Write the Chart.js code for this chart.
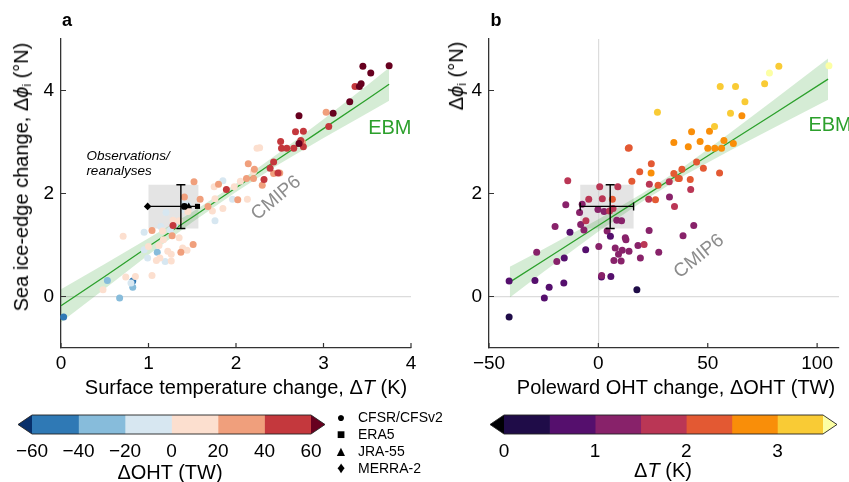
<!DOCTYPE html>
<html>
<head>
<meta charset="utf-8">
<script src="https://cdn.jsdelivr.net/npm/chart.js@4.4.1/dist/chart.umd.min.js"></script>
<style>
body { margin: 0; background: #fff; }
#fig { position: relative; width: 849px; height: 482px; overflow: hidden; font-family: "Liberation Sans", Arial, sans-serif; color: #000; }
#fig canvas { position: absolute; }
.t { position: absolute; white-space: nowrap; transform: translate(-50%, -50%); font-size: 20px; }
.rot { transform: translate(-50%, -50%) rotate(-90deg); }
.lab { font-weight: bold; font-size: 18px; }
.leg { position: absolute; left: 334px; transform: translateY(-50%); font-size: 14px; white-space: nowrap; }
.mk { display: inline-block; width: 14px; text-align: center; margin-right: 10px; font-size: 14px; line-height: 14px; }
sub { font-size: 0.62em; vertical-align: -0.25em; }
</style>
</head>
<body>
<div id="fig">
	<canvas id="panelA" width="430" height="400" style="left:0;top:0"></canvas>
	<canvas id="panelB" width="419" height="400" style="left:430px;top:0"></canvas>
	<canvas id="cbarA" width="340" height="77" style="left:0;top:405px"></canvas>
	<canvas id="cbarB" width="379" height="77" style="left:470px;top:405px"></canvas>

	<div class="t lab" style="left:67px;top:20px">a</div>
	<div class="t lab" style="left:496px;top:20px">b</div>

	<div class="t rot" style="left:22px;top:177px">Sea ice-edge change, Δ<i>ϕ</i><sub>i</sub> (°N)</div>
	<div class="t" style="left:246px;top:387px">Surface temperature change, Δ<i>T</i> (K)</div>
	<div class="t rot" style="left:457px;top:76px">Δ<i>ϕ</i><sub>i</sub> (°N)</div>
	<div class="t" style="left:676px;top:387px">Poleward OHT change, ΔOHT (TW)</div>

	<div class="t" style="left:170px;top:472px">ΔOHT (TW)</div>
	<div class="t" style="left:663px;top:470px">Δ<i>T</i> (K)</div>

	<div class="leg" style="top:417px"><span class="mk">●</span>CFSR/CFSv2</div>
	<div class="leg" style="top:434px"><span class="mk">■</span>ERA5</div>
	<div class="leg" style="top:451px"><span class="mk" style="font-size:14px">▲</span>JRA-55</div>
	<div class="leg" style="top:468px"><span class="mk" style="font-size:16px">♦</span>MERRA-2</div>
</div>

<script>
'use strict';

// CMIP6 models: poleward OHT change (TW), ice-edge shift (deg N), warming (K)
var dOHT = [-40.8, -40.8, -29.0, -28.2, -24.7, -22.5, -19.8, -19.0, -15.8, -15.6,
	-14.9, -14.0, -13.0, -8.6, -8.1, -7.4, -6.6, -5.8, -5.7, -4.4,
	0.2, -0.2, 0.6, 1.4, 1.5, 1.8, 2.6, 4.0, 5.1, 5.5,
	5.7, 6.4, 6.7, 7.1, 7.7, 8.4, 8.9, 9.2, 10.4, 10.6,
	10.9, 12.3, 12.6, 14.0, 13.7, 14.1, 15.3, 17.6, 18.1, 19.2,
	18.9, 20.9, 23.0, 23.2, 23.3, 24.1, 24.2, 26.1, 27.0, 27.3,
	27.6, 32.4, 32.5, 34.5, 34.5, 34.8, 36.5, 37.0, 38.2, 38.7,
	41.1, 42.2, 42.0, 42.6, 43.6, 44.9, 46.5, 48.0, 50.0, 50.8,
	53.1, 53.2, 55.4, 55.7, 56.3, 57.4, 60.4, 61.7, 62.7, 65.6,
	67.0, 76.0, 78.2, 82.5, 105.4];
var dPhi = [-0.40, 0.30, 0.31, 0.86, -0.03, 0.18, 1.36, 0.68, 0.26, 0.75,
	1.78, 2.25, 1.25, 1.63, 1.40, 1.79, 1.29, 0.91, 1.47, 1.89,
	0.97, 1.69, 2.13, 0.38, 0.41, 1.90, 1.65, 1.27, 1.66, 1.17,
	0.39, 1.89, 1.71, 0.70, 0.94, 1.48, 2.13, 0.82, 0.69, 1.47,
	0.90, 1.14, 1.10, 0.88, 2.88, 2.89, 2.24, 0.13, 0.99, 0.75,
	2.42, 1.01, 1.89, 1.28, 2.18, 2.40, 2.58, 1.88, 3.58, 2.16,
	0.86, 2.23, 1.93, 2.39, 2.99, 1.75, 2.29, 2.29, 2.47, 1.18,
	2.91, 2.08, 2.27, 3.20, 1.38, 2.61, 3.01, 2.49, 2.88, 3.21,
	3.30, 2.88, 2.40, 4.08, 2.88, 3.03, 3.56, 2.97, 4.08, 3.51,
	3.78, 4.13, 4.34, 4.47, 4.48];
var dT = [0.03, 0.82, 0.53, 1.10, 0.67, 0.82, 1.14, 1.19, 0.80, 0.99,
	1.45, 1.85, 0.95, 1.20, 1.30, 1.40, 1.25, 0.95, 1.76, 1.96,
	1.00, 1.40, 1.98, 0.74, 1.04, 1.76, 1.45, 1.16, 1.73, 0.71,
	0.85, 2.13, 1.85, 1.09, 1.39, 1.28, 1.75, 1.26, 1.26, 1.35,
	1.44, 1.35, 1.17, 1.22, 2.24, 2.27, 2.05, 0.48, 1.12, 1.13,
	2.20, 1.51, 1.59, 1.04, 1.80, 2.50, 2.14, 2.02, 3.03, 2.30,
	1.37, 1.52, 1.41, 2.43, 2.76, 1.68, 2.20, 2.12, 2.21, 1.27,
	2.77, 1.89, 2.32, 2.68, 1.28, 2.43, 2.51, 2.39, 2.52, 2.77,
	3.06, 2.58, 2.48, 3.36, 2.66, 2.74, 3.11, 2.72, 3.41, 2.72,
	3.30, 3.43, 3.54, 3.45, 3.75];

// observations / reanalyses
var reNames = ['CFSR/CFSv2', 'ERA5', 'JRA-55', 'MERRA-2'];
var reT = [1.41, 1.56, 1.46, 0.99];
var rePhi = [1.75, 1.75, 1.75, 1.75];
var obsT = [1.0, 1.57];
var obsOHT = [-8.3, 16.1];
var obsPhi = [1.32, 2.17];
var obsMeanT = 1.37;
var obsMeanOHT = 5.4;
var obsMeanPhi = 1.75;

// EBM line and its shaded range
var fitTx = [0, 0.5, 1, 1.5, 2, 2.5, 3, 3.5, 3.75];
var fitTy = [-0.18, 0.39, 0.97, 1.54, 2.11, 2.69, 3.26, 3.83, 4.12];
var fitTlo = [-0.50, 0.15, 0.81, 1.44, 2.03, 2.58, 3.08, 3.56, 3.80];
var fitThi = [0.14, 0.63, 1.13, 1.64, 2.19, 2.80, 3.44, 4.10, 4.44];
var fitOx = [-40.5, -25, 0, 20, 40, 60, 80, 105];
var fitOy = [0.28, 0.70, 1.38, 1.92, 2.46, 3.00, 3.54, 4.22];
var fitOlo = [-0.02, 0.48, 1.26, 1.84, 2.37, 2.83, 3.27, 3.82];
var fitOhi = [0.58, 0.92, 1.50, 2.00, 2.55, 3.17, 3.81, 4.62];

// ticks
var ticksT = [0, 1, 2, 3, 4];
var ticksOHT = [-50, 0, 50, 100];
var ticksPhi = [0, 2, 4];
var ticksCbOHT = [-60, -40, -20, 0, 20, 40, 60];
var ticksCbT = [0, 1, 2, 3];

// colour bins (first and last colours are the extensions)
var ohtEdges = [-60, -40, -20, 0, 20, 40, 60];
var ohtColors = ['#08306b', '#2f79b5', '#87bcdb', '#d7e7f1', '#fcdfcf', '#f09f7c', '#c4383d', '#67001f'];
var tEdges = [0, 0.5, 1, 1.5, 2, 2.5, 3, 3.5];
var tColors = ['#000004', '#1f0c48', '#550f6d', '#88226a', '#ba3655', '#e35933', '#f98e09', '#f9cb35', '#fcffa4'];

var FONT = '"Liberation Sans", Arial, sans-serif';
var GREEN = '#2ca02c';

function binColor(v, edges, colors) {
	for (var i = 0; i < edges.length; i++) {
		if (v < edges[i]) return colors[i];
	}
	return colors[colors.length - 1];
}

function pairs(xs, ys) {
	return xs.map(function (x, i) { return {x: x, y: ys[i]}; });
}

function minus(v) {
	return String(v).replace('-', '\u2212');
}

function fixTicks(list) {
	return function (scale) {
		scale.ticks = list.map(function (v) { return {value: v}; });
	};
}

var innerTicks = {
	id: 'innerTicks',
	afterDatasetsDraw: function (chart) {
		var ctx = chart.ctx, a = chart.chartArea;
		var sx = chart.scales.x, sy = chart.scales.y;
		ctx.save();
		ctx.strokeStyle = '#333';
		ctx.lineWidth = 1.2;
		ctx.beginPath();
		sx.ticks.forEach(function (t) {
			var p = sx.getPixelForValue(t.value);
			ctx.moveTo(p, a.bottom);
			ctx.lineTo(p, a.bottom - 5);
		});
		sy.ticks.forEach(function (t) {
			var p = sy.getPixelForValue(t.value);
			ctx.moveTo(a.left, p);
			ctx.lineTo(a.left + 5, p);
		});
		ctx.stroke();
		ctx.restore();
	}
};

// grey observational box plus error bars
function obsPlugin(o) {
	return {
		id: 'obs',
		beforeDatasetsDraw: function (chart) {
			var sx = chart.scales.x, sy = chart.scales.y, ctx = chart.ctx;
			var x0 = sx.getPixelForValue(o.boxX[0]), x1 = sx.getPixelForValue(o.boxX[1]);
			var y0 = sy.getPixelForValue(o.boxY[1]), y1 = sy.getPixelForValue(o.boxY[0]);
			ctx.save();
			ctx.fillStyle = 'rgba(205,205,205,0.55)';
			ctx.fillRect(x0, y0, x1 - x0, y1 - y0);
			ctx.restore();
		},
		afterDatasetDraw: function (chart, args) {
			if (args.index !== 0) return;
			var sx = chart.scales.x, sy = chart.scales.y, ctx = chart.ctx;
			var vx = sx.getPixelForValue(o.vx);
			var vy0 = sy.getPixelForValue(o.vy[0]), vy1 = sy.getPixelForValue(o.vy[1]);
			var hy = sy.getPixelForValue(o.hy);
			var hx0 = sx.getPixelForValue(o.hx[0]), hx1 = sx.getPixelForValue(o.hx[1]);
			ctx.save();
			ctx.strokeStyle = '#000';
			ctx.lineWidth = 1.4;
			ctx.beginPath();
			ctx.moveTo(vx, vy0); ctx.lineTo(vx, vy1);
			ctx.moveTo(vx - 4.5, vy0); ctx.lineTo(vx + 4.5, vy0);
			ctx.moveTo(vx - 4.5, vy1); ctx.lineTo(vx + 4.5, vy1);
			ctx.moveTo(hx0, hy); ctx.lineTo(hx1, hy);
			if (o.hcaps) {
				ctx.moveTo(hx0, hy - 4); ctx.lineTo(hx0, hy + 4);
				ctx.moveTo(hx1, hy - 4); ctx.lineTo(hx1, hy + 4);
			}
			ctx.stroke();
			ctx.restore();
		}
	};
}

function notesPlugin(items) {
	return {
		id: 'notes',
		afterDatasetsDraw: function (chart) {
			var ctx = chart.ctx;
			items.forEach(function (n) {
				var x = chart.scales.x.getPixelForValue(n.x);
				var y = chart.scales.y.getPixelForValue(n.y);
				ctx.save();
				ctx.translate(x, y);
				ctx.rotate((n.rot || 0) * Math.PI / 180);
				ctx.font = n.font;
				ctx.fillStyle = n.color;
				ctx.textAlign = n.align || 'center';
				ctx.textBaseline = 'middle';
				ctx.fillText(n.text, 0, 0);
				ctx.restore();
			});
		}
	};
}

function makePanel(id, p) {
	var datasets = [
		{type: 'scatter', data: pairs(p.mx, dPhi), pointBackgroundColor: p.colors, pointBorderWidth: 0,
			pointRadius: 3.5, pointHoverRadius: 3.5, clip: false, order: 1},
		{type: 'line', data: pairs(p.bandX, p.bandLo), borderWidth: 0, pointRadius: 0, fill: false, order: 4},
		{type: 'line', data: pairs(p.bandX, p.bandHi), borderWidth: 0, pointRadius: 0, fill: '-1',
			backgroundColor: 'rgba(44,160,44,0.2)', order: 3},
		{type: 'line', data: pairs(p.bandX, p.fitY), borderColor: GREEN, borderWidth: 1.3, pointRadius: 0, fill: false, order: 2}
	];
	if (p.extra) datasets.push(p.extra);

	var tickFont = {family: FONT, size: 19};
	return new Chart(document.getElementById(id), {
		type: 'scatter',
		data: {datasets: datasets},
		options: {
			responsive: false,
			animation: false,
			events: [],
			layout: {padding: {left: 0, top: 39, right: p.padRight, bottom: 0}},
			plugins: {legend: {display: false}, tooltip: {enabled: false}},
			scales: {
				x: {
					type: 'linear', min: p.xMin, max: p.xMax,
					afterBuildTicks: fixTicks(p.xTicks),
					afterFit: function (s) { s.height = 52; },
					grid: {drawTicks: false, lineWidth: 1.2, color: function (c) {
						return (p.xZero && c.tick && c.tick.value === 0) ? '#dcdcdc' : 'rgba(0,0,0,0)';
					}},
					border: {display: true, color: '#333', width: 1.3},
					ticks: {padding: 4, color: '#000', font: tickFont, callback: minus, maxRotation: 0}
				},
				y: {
					type: 'linear', min: -1, max: 5,
					afterBuildTicks: fixTicks(ticksPhi),
					afterFit: function (s) { s.width = p.yWidth; },
					grid: {drawTicks: false, lineWidth: 1.2, color: function (c) {
						return (c.tick && c.tick.value === 0) ? '#dcdcdc' : 'rgba(0,0,0,0)';
					}},
					border: {display: true, color: '#333', width: 1.3},
					ticks: {padding: 7, color: '#000', font: tickFont, callback: minus}
				}
			}
		},
		plugins: [obsPlugin(p.obs), innerTicks, notesPlugin(p.notes)]
	});
}

function extendPlugin(lowColor, highColor) {
	return {
		id: 'extend',
		afterDatasetsDraw: function (chart) {
			var ctx = chart.ctx, a = chart.chartArea, w = 14;
			var mid = (a.top + a.bottom) / 2;
			ctx.save();
			ctx.fillStyle = lowColor;
			ctx.beginPath();
			ctx.moveTo(a.left, a.top); ctx.lineTo(a.left - w, mid); ctx.lineTo(a.left, a.bottom);
			ctx.closePath(); ctx.fill();
			ctx.fillStyle = highColor;
			ctx.beginPath();
			ctx.moveTo(a.right, a.top); ctx.lineTo(a.right + w, mid); ctx.lineTo(a.right, a.bottom);
			ctx.closePath(); ctx.fill();
			ctx.strokeStyle = '#222';
			ctx.lineWidth = 0.9;
			ctx.beginPath();
			ctx.moveTo(a.left - w, mid); ctx.lineTo(a.left, a.top); ctx.lineTo(a.right, a.top);
			ctx.lineTo(a.right + w, mid); ctx.lineTo(a.right, a.bottom); ctx.lineTo(a.left, a.bottom);
			ctx.closePath(); ctx.stroke();
			ctx.restore();
		}
	};
}

function makeColorbar(id, edges, colors, ticks, padL, padR) {
	var datasets = [];
	for (var i = 0; i < edges.length - 1; i++) {
		datasets.push({data: [[edges[i], edges[i + 1]]], backgroundColor: colors[i + 1], borderWidth: 0,
			barPercentage: 1, categoryPercentage: 1, grouped: false});
	}
	return new Chart(document.getElementById(id), {
		type: 'bar',
		data: {labels: [''], datasets: datasets},
		options: {
			indexAxis: 'y',
			responsive: false,
			animation: false,
			events: [],
			layout: {padding: {left: padL, right: padR, top: 10, bottom: 0}},
			plugins: {legend: {display: false}, tooltip: {enabled: false}},
			scales: {
				x: {
					type: 'linear', min: edges[0], max: edges[edges.length - 1],
					afterBuildTicks: fixTicks(ticks),
					afterFit: function (s) { s.height = 48; },
					grid: {display: false, drawTicks: false},
					border: {display: false},
					ticks: {padding: 6, color: '#000', font: {family: FONT, size: 19}, callback: minus, maxRotation: 0}
				},
				y: {display: false}
			}
		},
		plugins: [extendPlugin(colors[0], colors[colors.length - 1])]
	});
}

makePanel('panelA', {
	mx: dT,
	colors: dOHT.map(function (v) { return binColor(v, ohtEdges, ohtColors); }),
	bandX: fitTx, fitY: fitTy, bandLo: fitTlo, bandHi: fitThi,
	xMin: 0, xMax: 4, xTicks: ticksT, xZero: false,
	padRight: 19, yWidth: 61,
	extra: {type: 'scatter', data: pairs(reT, rePhi), label: 'reanalyses',
		pointStyle: ['circle', 'rect', 'triangle', 'rectRot'], pointRadius: [3.4, 3.6, 3.8, 3.8],
		pointBackgroundColor: '#000', pointBorderWidth: 0, order: 0},
	obs: {boxX: obsT, boxY: obsPhi, vx: obsMeanT, vy: obsPhi,
		hy: obsMeanPhi, hx: [reT[3], reT[1]], hcaps: false},
	notes: [
		{text: 'Observations/', x: 0.29, y: 2.73, font: 'italic 13.5px ' + FONT, color: '#000', align: 'left'},
		{text: 'reanalyses', x: 0.29, y: 2.44, font: 'italic 13.5px ' + FONT, color: '#000', align: 'left'},
		{text: 'CMIP6', x: 2.46, y: 1.91, rot: -40, font: '19px ' + FONT, color: '#8c8c8c'},
		{text: 'EBM', x: 3.51, y: 3.27, font: '20px ' + FONT, color: GREEN, align: 'left'}
	]
});

makePanel('panelB', {
	mx: dOHT,
	colors: dT.map(function (v) { return binColor(v, tEdges, tColors); }),
	bandX: fitOx, fitY: fitOy, bandLo: fitOlo, bandHi: fitOhi,
	xMin: -50, xMax: 110, xTicks: ticksOHT, xZero: true,
	padRight: 10, yWidth: 59,
	obs: {boxX: obsOHT, boxY: obsPhi, vx: obsMeanOHT, vy: obsPhi,
		hy: obsMeanPhi, hx: obsOHT, hcaps: true},
	notes: [
		{text: 'CMIP6', x: 46, y: 0.78, rot: -39, font: '19px ' + FONT, color: '#8c8c8c'},
		{text: 'EBM', x: 96, y: 3.33, font: '20px ' + FONT, color: GREEN, align: 'left'}
	]
});

makeColorbar('cbarA', ohtEdges, ohtColors, ticksCbOHT, 32, 29);
makeColorbar('cbarB', tEdges, tColors, ticksCbT, 34, 26);
</script>
</body>
</html>
